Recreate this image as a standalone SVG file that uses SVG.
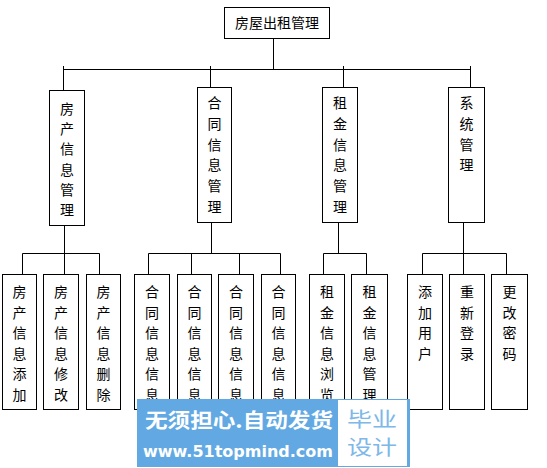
<svg xmlns="http://www.w3.org/2000/svg" width="547" height="468" viewBox="0 0 547 468">
<style>
.b{fill:#fff;stroke:#000;stroke-width:1}
.t{font-family:"Noto Sans CJK SC","Noto Sans",sans-serif;font-size:14px;fill:#000;text-anchor:middle}
.c{stroke:#000;stroke-width:1;fill:none}
</style>
<rect width="547" height="468" fill="#fff"/>
<g id="connectors" class="c">
<path d="M273.5 38V69.5M63.5 69.5H470.5M63.5 66V90M210.5 66V87M343.5 66V87M470.5 66V87"/>
<path d="M64.5 225V274M22.5 253.5H99.5M22.5 253.5V274M99.5 253.5V274"/>
<path d="M211.5 222V253.5M148.5 253.5H280.5M148.5 253.5V274M191.5 253.5V274M239.5 253.5V274M280.5 253.5V274"/>
<path d="M338.5 222V253.5M323.5 253.5H366.5M323.5 253.5V274M366.5 253.5V274"/>
<path d="M463.5 222V274M422.5 253.5H506.5M422.5 253.5V274M506.5 253.5V274"/>
</g>
<g id="root"><rect class="b" x="224.5" y="7.5" width="105" height="31"/><text class="t" x="277" y="28">房屋出租管理</text></g>
<g id="n1"><rect class="b" x="49.5" y="90.5" width="35" height="135"/><text class="t"><tspan x="67" y="114">房</tspan><tspan x="67" y="134.2">产</tspan><tspan x="67" y="154.4">信</tspan><tspan x="67" y="174.6">息</tspan><tspan x="67" y="194.8">管</tspan><tspan x="67" y="215">理</tspan></text></g>
<g id="n2"><rect class="b" x="197.5" y="87.5" width="34" height="135"/><text class="t"><tspan x="214.5" y="108">合</tspan><tspan x="214.5" y="128.8">同</tspan><tspan x="214.5" y="149.6">信</tspan><tspan x="214.5" y="170.4">息</tspan><tspan x="214.5" y="191.2">管</tspan><tspan x="214.5" y="212">理</tspan></text></g>
<g id="n3"><rect class="b" x="322.5" y="87.5" width="35" height="135"/><text class="t"><tspan x="340" y="108">租</tspan><tspan x="340" y="128.8">金</tspan><tspan x="340" y="149.6">信</tspan><tspan x="340" y="170.4">息</tspan><tspan x="340" y="191.2">管</tspan><tspan x="340" y="212">理</tspan></text></g>
<g id="n4"><rect class="b" x="448.5" y="87.5" width="36" height="135"/><text class="t"><tspan x="466.5" y="108">系</tspan><tspan x="466.5" y="128.8">统</tspan><tspan x="466.5" y="149.6">管</tspan><tspan x="466.5" y="170.4">理</tspan></text></g>
<g id="l1"><rect class="b" x="2.5" y="274.5" width="34" height="135"/><text class="t"><tspan x="19.5" y="297">房</tspan><tspan x="19.5" y="317.6">产</tspan><tspan x="19.5" y="338.2">信</tspan><tspan x="19.5" y="358.8">息</tspan><tspan x="19.5" y="379.4">添</tspan><tspan x="19.5" y="400">加</tspan></text></g>
<g id="l2"><rect class="b" x="43.5" y="274.5" width="35" height="135"/><text class="t"><tspan x="61" y="297">房</tspan><tspan x="61" y="317.6">产</tspan><tspan x="61" y="338.2">信</tspan><tspan x="61" y="358.8">息</tspan><tspan x="61" y="379.4">修</tspan><tspan x="61" y="400">改</tspan></text></g>
<g id="l3"><rect class="b" x="86.5" y="274.5" width="34" height="135"/><text class="t"><tspan x="103.5" y="297">房</tspan><tspan x="103.5" y="317.6">产</tspan><tspan x="103.5" y="338.2">信</tspan><tspan x="103.5" y="358.8">息</tspan><tspan x="103.5" y="379.4">删</tspan><tspan x="103.5" y="400">除</tspan></text></g>
<g id="l4"><rect class="b" x="134.5" y="274.5" width="35" height="135"/><text class="t"><tspan x="152" y="297">合</tspan><tspan x="152" y="317.6">同</tspan><tspan x="152" y="338.2">信</tspan><tspan x="152" y="358.8">息</tspan><tspan x="152" y="379.4">信</tspan><tspan x="152" y="400">息</tspan></text></g>
<g id="l5"><rect class="b" x="177.5" y="274.5" width="34" height="135"/><text class="t"><tspan x="194.5" y="297">合</tspan><tspan x="194.5" y="317.6">同</tspan><tspan x="194.5" y="338.2">信</tspan><tspan x="194.5" y="358.8">息</tspan><tspan x="194.5" y="379.4">信</tspan><tspan x="194.5" y="400">息</tspan></text></g>
<g id="l6"><rect class="b" x="218.5" y="274.5" width="35" height="135"/><text class="t"><tspan x="236" y="297">合</tspan><tspan x="236" y="317.6">同</tspan><tspan x="236" y="338.2">信</tspan><tspan x="236" y="358.8">息</tspan><tspan x="236" y="379.4">信</tspan><tspan x="236" y="400">息</tspan></text></g>
<g id="l7"><rect class="b" x="261.5" y="274.5" width="34" height="135"/><text class="t"><tspan x="278.5" y="297">合</tspan><tspan x="278.5" y="317.6">同</tspan><tspan x="278.5" y="338.2">信</tspan><tspan x="278.5" y="358.8">息</tspan><tspan x="278.5" y="379.4">信</tspan><tspan x="278.5" y="400">息</tspan></text></g>
<g id="l8"><rect class="b" x="309.5" y="274.5" width="35" height="135"/><text class="t"><tspan x="327" y="297">租</tspan><tspan x="327" y="317.6">金</tspan><tspan x="327" y="338.2">信</tspan><tspan x="327" y="358.8">息</tspan><tspan x="327" y="379.4">浏</tspan><tspan x="327" y="400">览</tspan></text></g>
<g id="l9"><rect class="b" x="351.5" y="274.5" width="36" height="135"/><text class="t"><tspan x="369.5" y="297">租</tspan><tspan x="369.5" y="317.6">金</tspan><tspan x="369.5" y="338.2">信</tspan><tspan x="369.5" y="358.8">息</tspan><tspan x="369.5" y="379.4">管</tspan><tspan x="369.5" y="400">理</tspan></text></g>
<g id="l10"><rect class="b" x="407.5" y="274.5" width="35" height="135"/><text class="t"><tspan x="425" y="297">添</tspan><tspan x="425" y="317.6">加</tspan><tspan x="425" y="338.2">用</tspan><tspan x="425" y="358.8">户</tspan></text></g>
<g id="l11"><rect class="b" x="449.5" y="274.5" width="35" height="135"/><text class="t"><tspan x="467" y="297">重</tspan><tspan x="467" y="317.6">新</tspan><tspan x="467" y="338.2">登</tspan><tspan x="467" y="358.8">录</tspan></text></g>
<g id="l12"><rect class="b" x="491.5" y="274.5" width="36" height="135"/><text class="t"><tspan x="509.5" y="297">更</tspan><tspan x="509.5" y="317.6">改</tspan><tspan x="509.5" y="338.2">密</tspan><tspan x="509.5" y="358.8">码</tspan></text></g>
<g id="watermark">
<rect x="137" y="399" width="273" height="68" fill="#62a9e3"/>
<rect x="338" y="400" width="69" height="66" fill="#fff"/>
<text x="145" y="428" font-family="'Noto Sans CJK SC',sans-serif" font-size="20" font-weight="bold" fill="#fff" textLength="188" lengthAdjust="spacingAndGlyphs">无须担心.自动发货</text>
<text x="143" y="457" font-family="'DejaVu Sans',sans-serif" font-size="16" font-weight="bold" fill="#fff" textLength="190" lengthAdjust="spacingAndGlyphs">www.51topmind.com</text>
<text x="372" y="427" font-family="'Noto Sans CJK SC',sans-serif" font-size="20" fill="#7db8e8" text-anchor="middle" textLength="50" lengthAdjust="spacingAndGlyphs">毕业</text>
<text x="372" y="455" font-family="'Noto Sans CJK SC',sans-serif" font-size="20" fill="#7db8e8" text-anchor="middle" textLength="50" lengthAdjust="spacingAndGlyphs">设计</text>
</g>
</svg>
